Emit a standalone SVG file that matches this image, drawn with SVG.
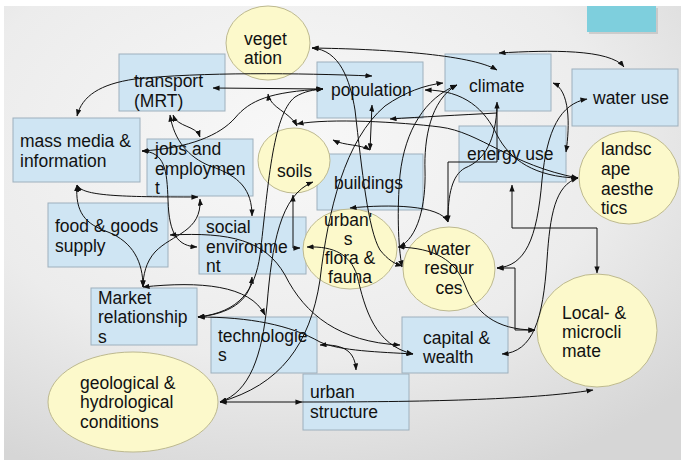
<svg xmlns="http://www.w3.org/2000/svg" width="681" height="460" viewBox="0 0 681 460">
<defs>
<radialGradient id="bg" cx="0.42" cy="0.3" r="0.8">
<stop offset="0" stop-color="#f8f8f8"/>
<stop offset="0.6" stop-color="#ececec"/>
<stop offset="1" stop-color="#d6d6d6"/>
</radialGradient>
<marker id="ah" viewBox="0 0 8 6" refX="7.5" refY="3" markerWidth="7" markerHeight="5.5" markerUnits="userSpaceOnUse" orient="auto-start-reverse">
<path d="M0,0 L8,3 L0,6 z" fill="#111"/>
</marker>
<style>
.box{fill:#cfe5f3;stroke:#9eb0bd;stroke-width:1}
.ell{fill:#fcf9cb;stroke:#bdb98f;stroke-width:1}
.t{font-family:"Liberation Sans",Arial,sans-serif;font-size:17.5px;fill:#111}
.c{text-anchor:middle}
#connectors path{fill:none;stroke:#111;stroke-width:1}
.bi{marker-start:url(#ah);marker-end:url(#ah)}
.uni{marker-end:url(#ah)}
</style>
</defs>
<rect x="0" y="0" width="681" height="460" fill="#ffffff"/>
<rect x="4" y="6" width="677" height="454" fill="url(#bg)"/>
<rect x="589" y="8" width="69" height="26" fill="#b0b0b0" opacity="0.5"/>
<rect x="587" y="6" width="69" height="26" fill="#7ecfdd"/>

<g id="transport"><rect class="box" x="119" y="54" width="106" height="57"/><text class="t"><tspan x="134" y="87">transport</tspan><tspan x="134" y="107">(MRT)</tspan></text></g>
<g id="population"><rect class="box" x="317" y="62" width="106" height="56"/><text class="t" x="331" y="96">population</text></g>
<g id="climate"><rect class="box" x="445" y="54" width="106" height="57"/><text class="t" x="469" y="92">climate</text></g>
<g id="water-use"><rect class="box" x="572" y="69" width="106" height="57"/><text class="t" x="593" y="104">water use</text></g>
<g id="energy-use"><rect class="box" x="459" y="126" width="107" height="56"/><text class="t" x="467" y="160">energy use</text></g>
<g id="buildings"><rect class="box" x="317" y="154" width="106" height="56"/><text class="t" x="334" y="189">buildings</text></g>
<g id="mass-media"><rect class="box" x="13" y="118" width="127" height="64"/><text class="t"><tspan x="20" y="147">mass media &amp;</tspan><tspan x="20" y="167">information</tspan></text></g>
<g id="jobs"><rect class="box" x="147" y="139" width="106" height="57"/><text class="t"><tspan x="155" y="155">jobs and</tspan><tspan x="155" y="175">employmen</tspan><tspan x="155" y="194">t</tspan></text></g>
<g id="food"><rect class="box" x="48" y="203" width="120" height="64"/><text class="t"><tspan x="55" y="232">food &amp; goods</tspan><tspan x="55" y="252">supply</tspan></text></g>
<g id="social"><rect class="box" x="199" y="217" width="107" height="57"/><text class="t"><tspan x="206" y="233">social</tspan><tspan x="206" y="253">environme</tspan><tspan x="206" y="272">nt</tspan></text></g>
<g id="market"><rect class="box" x="91" y="288" width="106" height="57"/><text class="t"><tspan x="98" y="304">Market</tspan><tspan x="98" y="323">relationship</tspan><tspan x="98" y="343">s</tspan></text></g>
<g id="technologies"><rect class="box" x="211" y="317" width="106" height="56"/><text class="t"><tspan x="218" y="342">technologie</tspan><tspan x="218" y="361">s</tspan></text></g>
<g id="urban-structure"><rect class="box" x="303" y="374" width="106" height="56"/><text class="t"><tspan x="310" y="398">urban</tspan><tspan x="310" y="418">structure</tspan></text></g>
<g id="capital"><rect class="box" x="402" y="317" width="106" height="56"/><text class="t"><tspan x="423" y="344">capital &amp;</tspan><tspan x="423" y="363">wealth</tspan></text></g>

<g id="vegetation"><ellipse class="ell" cx="268" cy="43" rx="42" ry="37"/><text class="t"><tspan x="244" y="45">veget</tspan><tspan x="244" y="64">ation</tspan></text></g>
<g id="soils"><ellipse class="ell" cx="294" cy="160.5" rx="36" ry="32.5"/><text class="t" x="277" y="177">soils</text></g>
<g id="flora"><ellipse class="ell" cx="350" cy="249" rx="47" ry="40"/><text class="t c"><tspan x="348" y="226">urban'</tspan><tspan x="348" y="245">s</tspan><tspan x="350" y="264">flora &amp;</tspan><tspan x="350" y="283">fauna</tspan></text></g>
<g id="water-resources"><ellipse class="ell" cx="449" cy="269" rx="46" ry="42"/><text class="t c"><tspan x="449" y="255">water</tspan><tspan x="449" y="274">resour</tspan><tspan x="449" y="294">ces</tspan></text></g>
<g id="landscape"><ellipse class="ell" cx="629" cy="177.5" rx="50" ry="46.5"/><text class="t"><tspan x="601" y="155">landsc</tspan><tspan x="601" y="175">ape</tspan><tspan x="601" y="195">aesthe</tspan><tspan x="601" y="214">tics</tspan></text></g>
<g id="local-climate"><ellipse class="ell" cx="597" cy="330.5" rx="60" ry="56.5"/><text class="t"><tspan x="562" y="319">Local- &amp;</tspan><tspan x="562" y="338">microcli</tspan><tspan x="562" y="357">mate</tspan></text></g>
<g id="geological"><ellipse class="ell" cx="133" cy="402" rx="85" ry="50"/><text class="t"><tspan x="80" y="389">geological &amp;</tspan><tspan x="80" y="408">hydrological</tspan><tspan x="80" y="428">conditions</tspan></text></g>

<g id="connectors">
<path class="bi" d="M77,116 C82,96 100,84 135,79 C200,72 300,73 372,76"/>
<path class="bi" d="M213,88 L323,89"/>
<path class="bi" d="M142,151 C190,148 220,135 235,118 C250,100 270,92 323,89"/>
<path class="bi" d="M268,94 C270,108 290,112 297,126"/>
<path class="bi" d="M173,115 C178,128 196,125 200,137"/>
<path class="bi" d="M170,115 C174,140 188,157 210,166 C240,176 252,190 252,216"/>
<path class="bi" d="M142,151 C165,152 167,170 168,200 C169,235 178,246 197,247"/>
<path class="bi" d="M77,185 C82,196 120,197 198,197"/>
<path class="bi" d="M77,185 C75,212 85,224 108,232 C133,242 143,262 143,287"/>
<path class="bi" d="M200,199 C202,232 172,234 155,252 C146,262 143,275 143,287"/>
<path class="bi" d="M170,235 C230,232 265,240 285,275 C305,315 340,342 400,345"/>
<path class="bi" d="M143,287 C200,281 250,285 265,315"/>
<path class="bi" d="M198,317 C228,314 250,302 252,277"/>
<path class="bi" d="M198,317 C240,312 255,290 260,255 C268,190 272,115 295,97 C305,91 313,90 323,89"/>
<path class="bi" d="M198,317 C250,317 290,325 320,342 C340,351 380,352 413,354"/>
<path class="bi" d="M320,345 C345,344 355,352 356,370"/>
<path class="bi" d="M307,247 C335,246 350,255 357,275 C365,310 375,345 413,354"/>
<path class="bi" d="M220,402 L302,402"/>
<path class="uni" d="M302,402 C420,402 530,400 593,390"/>
<path class="bi" d="M220,402 C250,392 262,355 267,305 C272,245 280,195 313,182"/>
<path class="bi" d="M220,402 C280,385 310,345 320,280 C328,210 345,140 385,106 C405,92 425,85 443,83"/>
<path class="bi" d="M293,195 L293,248 L300,248"/>
<path class="bi" d="M333,140 C345,146 360,144 370,150"/>
<path class="bi" d="M372,105 L370,150"/>
<path class="bi" d="M312,48 C380,49 470,54 497,70"/>
<path class="bi" d="M499,53 C550,50 610,49 624,67"/>
<path class="bi" d="M312,48 C340,50 350,80 355,110 C362,170 368,230 380,250 C388,260 395,264 402,266"/>
<path class="bi" d="M457,85 C425,98 405,130 400,175 C397,210 398,245 402,267"/>
<path class="bi" d="M457,85 C430,100 424,140 425,170 C426,205 418,238 399,247"/>
<path class="uni" d="M497,113 C460,115 420,117 390,119"/>
<path class="bi" d="M297,124 C330,118 400,122 440,127 C480,132 510,165 578,178"/>
<path class="bi" d="M425,90 C465,90 485,110 497,135 C510,160 535,177 578,178"/>
<path class="bi" d="M553,83 C570,90 570,125 566,152"/>
<path class="bi" d="M448,222 L448,162 L497,162 L497,102"/>
<path d="M497,105 C496,140 485,160 465,168 C452,175 448,195 448,220"/>
<path class="bi" d="M350,208 C390,204 440,205 448,222"/>
<path class="bi" d="M587,99 C560,104 547,130 542,180 C537,240 525,266 497,268"/>
<path class="bi" d="M578,178 C555,185 550,215 547,260 C543,320 533,352 502,354"/>
<path class="bi" d="M497,268 L515,268 L515,330 L535,330"/>
<path class="bi" d="M398,247 C435,248 455,260 465,285 C475,312 495,330 535,330"/>
<path class="bi" d="M512,185 L512,228 L597,228 L597,273"/>
</g>
</svg>
